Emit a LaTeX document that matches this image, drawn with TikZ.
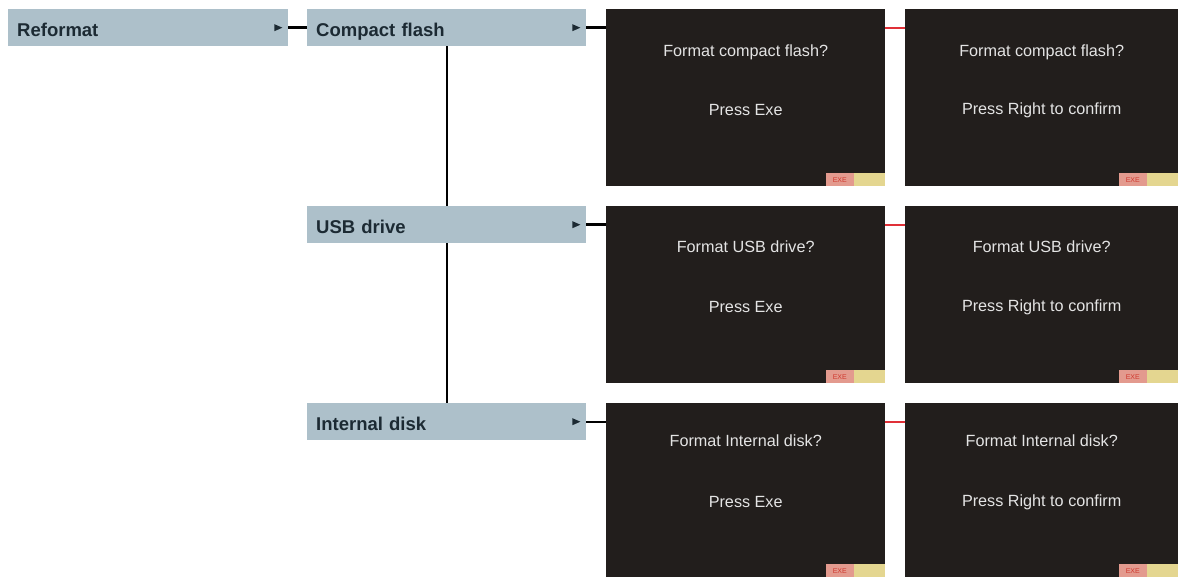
\documentclass[tikz,border=0pt]{standalone}
\usepackage{fontspec}
\setmainfont{Liberation Sans}
\usetikzlibrary{calc}
\definecolor{boxfill}{HTML}{ADC0CA}
\definecolor{boxtext}{HTML}{1C2A33}
\definecolor{screenbg}{HTML}{221E1C}
\definecolor{scrtext}{HTML}{E4E4E4}
\definecolor{exered}{HTML}{E39A8E}
\definecolor{exetext}{HTML}{D03A30}
\definecolor{exeyel}{HTML}{E4D690}
\definecolor{redlink}{HTML}{E03038}
\begin{document}
\begin{tikzpicture}[x=1pt,y=-1pt,
  menubox/.style={fill=boxfill, minimum height=37pt, text width=261pt, text height=17.5pt, text depth=0pt, inner xsep=9pt, inner ysep=0pt, align=left, anchor=north west, font=\fontsize{18.5}{20}\selectfont\bfseries, text=boxtext},
  screenbox/.style={fill=screenbg, inner sep=0pt, anchor=north west},
  scrlabel/.style={font=\fontsize{16.2}{18}\selectfont, text=scrtext, inner sep=0pt},
  link/.style={line width=2.4pt, black},
  redline/.style={line width=2pt, redlink},
  badgered/.style={fill=exered, inner sep=0pt, minimum width=28pt, minimum height=13pt, anchor=south east, font=\fontsize{7}{8}\selectfont, text=exetext},
  badgeyel/.style={fill=exeyel, inner sep=0pt, minimum width=31pt, minimum height=13pt, anchor=south east},
  tri/.style={fill=boxtext}
]
\useasboundingbox (0,0) rectangle (1178,577);
\fill[white] (0,0) rectangle (1178,577);

% menu boxes
\node[menubox, minimum width=280pt, text width=262pt] (ref) at (8,9) {Reformat};
\node[menubox, minimum width=279pt] (cf) at (307,9) {Compact flash};
\node[menubox, minimum width=279pt] (usb) at (307,206) {USB drive};
\node[menubox, minimum width=279pt] (int) at (307,403) {Internal disk};

% small triangles
\foreach \b in {ref,cf,usb,int}{
  \fill[tri] ($(\b.east)+(-14,-3.5)$) -- ++(8,3.5) -- ++(-8,3.5) -- cycle;
}

% screens
\foreach \r/\y/\h in {1/9/177, 2/206/177, 3/403/174}{
  \node[screenbox, minimum width=279pt, minimum height=\h pt] (s\r a) at (606,\y) {};
  \node[screenbox, minimum width=273pt, minimum height=\h pt] (s\r b) at (905,\y) {};
}

% screen texts
\node[scrlabel] (t1a1) at ($(s1a.north)+(0,43)$) {Format compact flash?};
\node[scrlabel] (t1a2) at ($(s1a.north)+(0,101)$) {Press Exe};
\node[scrlabel] (t1b1) at ($(s1b.north)+(0,43)$) {Format compact flash?};
\node[scrlabel] (t1b2) at ($(s1b.north)+(0,101)$) {Press Right to confirm};
\node[scrlabel] (t2a1) at ($(s2a.north)+(0,41)$) {Format USB drive?};
\node[scrlabel] (t2a2) at ($(s2a.north)+(0,101)$) {Press Exe};
\node[scrlabel] (t2b1) at ($(s2b.north)+(0,41)$) {Format USB drive?};
\node[scrlabel] (t2b2) at ($(s2b.north)+(0,101)$) {Press Right to confirm};
\node[scrlabel] (t3a1) at ($(s3a.north)+(0,38)$) {Format Internal disk?};
\node[scrlabel] (t3a2) at ($(s3a.north)+(0,99)$) {Press Exe};
\node[scrlabel] (t3b1) at ($(s3b.north)+(0,38)$) {Format Internal disk?};
\node[scrlabel] (t3b2) at ($(s3b.north)+(0,99)$) {Press Right to confirm};

% EXE badges
\foreach \s in {s1a,s1b,s2a,s2b,s3a,s3b}{
  \node[badgeyel] (\s y) at (\s.south east) {};
  \node[badgered] (\s r) at (\s y.south west) {EXE};
}

% connectors
\draw[link] (ref.east) -- (cf.west);
\draw[link] (cf.east) -- (cf.east -| s1a.west);
\draw[link] (usb.east) -- (usb.east -| s2a.west);
\draw[link] (int.east) -- (int.east -| s3a.west);
\draw[link] (cf.south) -- (usb.north);
\draw[link] (usb.south) -- (int.north);
\draw[redline] (cf.east -| s1a.east) -- (cf.east -| s1b.west);
\draw[redline] (usb.east -| s2a.east) -- (usb.east -| s2b.west);
\draw[redline] (int.east -| s3a.east) -- (int.east -| s3b.west);
\end{tikzpicture}
\end{document}
